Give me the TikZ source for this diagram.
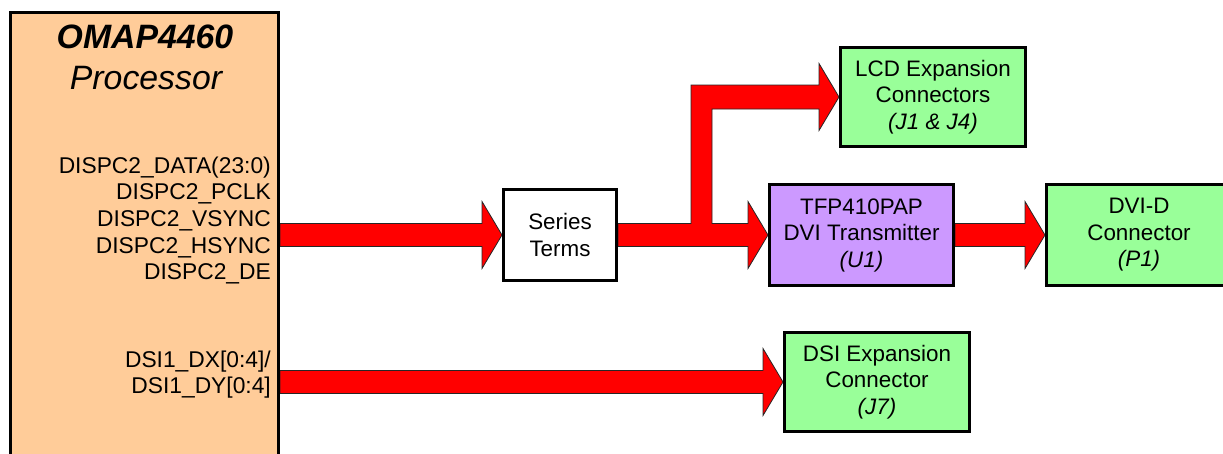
\documentclass[tikz,border=0pt]{standalone}
\usepackage{fontspec}
\setmainfont{Liberation Sans}
\usetikzlibrary{calc}
\pgfdeclarelayer{bg}
\pgfsetlayers{bg,main}
\definecolor{peach}{HTML}{FFCC99}
\definecolor{lgreen}{HTML}{99FF99}
\definecolor{lpurple}{HTML}{CC99FF}
\definecolor{sigred}{HTML}{FF0000}
\newcommand\fatarrow[2]{%
  \draw[fat] let \p1=(#1), \p2=(#2) in
   (\x1,\y1+11.5pt) -- (\x2-20pt,\y1+11.5pt) -- (\x2-20pt,\y1+33.5pt) -- (\x2,\y1)
   -- (\x2-20pt,\y1-33.5pt) -- (\x2-20pt,\y1-11.5pt) -- (\x1,\y1-11.5pt) -- cycle;}
\begin{document}
\begin{tikzpicture}[x=1pt,y=-1pt,
  fat/.style={fill=sigred,draw=black!85,line width=0.8pt,line join=miter},
  boxbase/.style={draw=black,line width=3pt,align=center,inner sep=0pt,
    font=\fontsize{22.4}{26.5}\selectfont},
  blockbox/.style={boxbase,minimum width=185pt,minimum height=99pt},
  siglabel/.style={anchor=base east,inner sep=0pt,font=\fontsize{22.8}{26}\selectfont},
  titlelabel/.style={anchor=base,inner sep=0pt,font=\fontsize{33.8}{38}\selectfont\itshape}]
\useasboundingbox (0,0) rectangle (1223,453);
\clip (0,0) rectangle (1223,453);
% blocks
\node[boxbase,fill=peach,minimum width=268pt,minimum height=467.5pt] (proc) at (144.5,246.25) {};
\node[titlelabel] (t1) at (145,48) {\bfseries OMAP4460};
\node[titlelabel] (t2) at (146,89) {Processor};
\node[siglabel] (s1) at (271,173) {DISPC2\_DATA(23:0)};
\node[siglabel] (s2) at (271,199.7) {DISPC2\_PCLK};
\node[siglabel] (s3) at (271,226.4) {DISPC2\_VSYNC};
\node[siglabel] (s4) at (271,253.1) {DISPC2\_HSYNC};
\node[siglabel] (s5) at (271,279.8) {DISPC2\_DE};
\node[siglabel] (d1) at (271,367) {DSI1\_DX[0:4]/};
\node[siglabel] (d2) at (271,393.5) {DSI1\_DY[0:4]};
\node[boxbase,fill=white,minimum width=113pt,minimum height=91pt] (series) at (560,235) {Series\\Terms};
\node[blockbox,fill=lpurple,minimum width=184pt,minimum height=101pt] (tfp) at (861.5,235) {TFP410PAP\\DVI Transmitter\\\textit{(U1)}};
\node[blockbox,fill=lgreen,minimum height=101pt] (dvi) at (1139,235) {DVI-D\\Connector\\\textit{(P1)}};
\node[blockbox,fill=lgreen] (lcd) at (933,97) {LCD Expansion\\Connectors\\\textit{(J1 \& J4)}};
\node[blockbox,fill=lgreen] (dsi) at (877,382) {DSI Expansion\\Connector\\\textit{(J7)}};
\coordinate (split) at (701.5,235);
% connectors
\begin{pgfonlayer}{bg}
\fatarrow{proc.east |- series.west}{series.west}
\fatarrow{tfp.east}{dvi.west}
\fatarrow{proc.east |- dsi.west}{dsi.west}
\draw[fat] let \p1=(series.east), \p2=(tfp.west), \p3=(lcd.west), \p4=(split) in
  (\x1,\y1+11.5pt) -- (\x4-10.5pt,\y1+11.5pt) -- (\x4-10.5pt,\y3+12pt)
  -- (\x3-20pt,\y3+12pt) -- (\x3-20pt,\y3+33.5pt) -- (\x3,\y3)
  -- (\x3-20pt,\y3-33.5pt) -- (\x3-20pt,\y3-12pt) -- (\x4+10.5pt,\y3-12pt)
  -- (\x4+10.5pt,\y1+11.5pt) -- (\x2-20pt,\y1+11.5pt) -- (\x2-20pt,\y1+33.5pt)
  -- (\x2,\y2) -- (\x2-20pt,\y1-33.5pt) -- (\x2-20pt,\y1-11.5pt) -- (\x1,\y1-11.5pt) -- cycle;
\end{pgfonlayer}
\end{tikzpicture}
\end{document}
